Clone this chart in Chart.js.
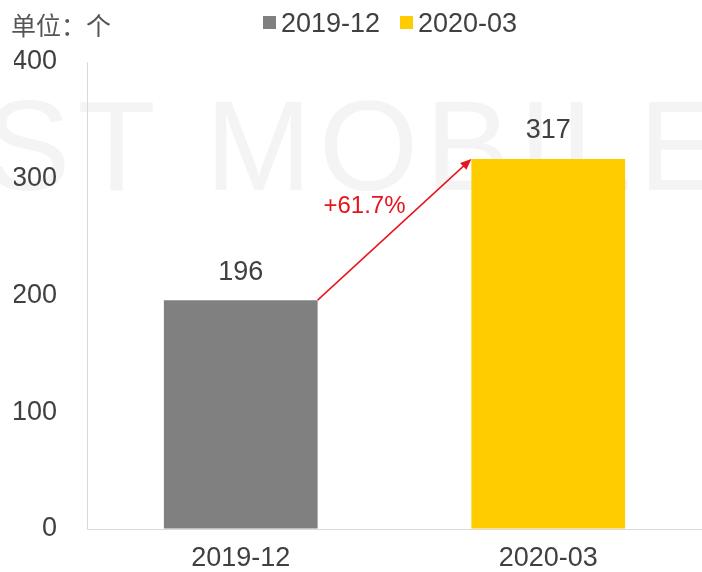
<!DOCTYPE html>
<html>
<head>
<meta charset="utf-8">
<script src="https://cdn.jsdelivr.net/npm/chart.js@4"></script>
<style>
  html, body { margin: 0; padding: 0; background: #fff; }
  #wrap { width: 702px; height: 572px; }
</style>
</head>
<body>
<div id="wrap"><canvas id="growthChart" width="702" height="572"></canvas></div>
<script>
// Data
const categories = ['2019-12', '2020-03'];
const values = [196, 317];
const barColors = ['#808080', '#ffcc00'];
const yTicks = [0, 100, 200, 300, 400];
const growthLabel = '+61.7%';
const unitLabel = '单位：个';

const FONT = '"Liberation Sans", Arial, sans-serif';
const CJK = '"Noto Sans CJK SC", "Liberation Sans", sans-serif';
const TEXT = '#404040';

// Faint watermark behind everything
const watermark = {
    id: 'watermark',
    beforeDraw(chart) {
        const c = chart.ctx;
        c.save();
        c.font = '128px ' + FONT;
        c.letterSpacing = '7px';
        c.fillStyle = '#f4f4f4';
        c.textAlign = 'left';
        c.textBaseline = 'alphabetic';
        c.fillText('ST MOBILE', -15, 190);
        c.restore();
    }
};

// Unit note + legend drawn by hand so they sit where the reference has them
const header = {
    id: 'header',
    afterDraw(chart) {
        const c = chart.ctx;
        c.save();
        c.textBaseline = 'middle';
        c.fillStyle = '#555';
        c.font = '25px ' + CJK;
        c.fillText(unitLabel, 11, 25);

        c.font = '27px ' + FONT;
        let x = 263;
        categories.forEach((cat, i) => {
            c.fillStyle = barColors[i];
            c.fillRect(x, 16, 13, 13);
            c.fillStyle = TEXT;
            c.fillText(cat, x + 18, 25);
            x += 137;
        });
        c.restore();
    }
};

// Value labels and the growth arrow
const annotations = {
    id: 'annotations',
    afterDatasetsDraw(chart) {
        const c = chart.ctx;
        const bars = chart.getDatasetMeta(0).data;
        c.save();
        c.font = '27px ' + FONT;
        c.fillStyle = TEXT;
        c.textAlign = 'center';
        c.textBaseline = 'middle';
        bars.forEach((b, i) => c.fillText(String(values[i]), b.x, b.y - 28));

        const x0 = bars[0].x + bars[0].width / 2, y0 = bars[0].y;
        const x1 = bars[1].x - bars[1].width / 2, y1 = bars[1].y;
        const ang = Math.atan2(y1 - y0, x1 - x0);
        const head = 12;
        c.strokeStyle = '#e8141c';
        c.fillStyle = '#e8141c';
        c.lineWidth = 1.5;
        c.beginPath();
        c.moveTo(x0, y0);
        c.lineTo(x1 - Math.cos(ang) * head * 0.8, y1 - Math.sin(ang) * head * 0.8);
        c.stroke();
        c.beginPath();
        c.moveTo(x1, y1);
        c.lineTo(x1 - head * Math.cos(ang - 0.4), y1 - head * Math.sin(ang - 0.4));
        c.lineTo(x1 - head * Math.cos(ang + 0.4), y1 - head * Math.sin(ang + 0.4));
        c.closePath();
        c.fill();

        c.font = '24px ' + FONT;
        c.fillText(growthLabel, (x0 + x1) / 2 - 30, (y0 + y1) / 2 - 23);
        c.restore();
    }
};

const ctx = document.getElementById('growthChart').getContext('2d');
new Chart(ctx, {
    type: 'bar',
    data: {
        labels: categories,
        datasets: [{
            data: values,
            backgroundColor: barColors,
            barPercentage: 1,
            categoryPercentage: 0.5
        }]
    },
    options: {
        responsive: false,
        animation: false,
        layout: { padding: { top: 62, left: 14, right: -3, bottom: 0 } },
        plugins: {
            legend: { display: false },
            tooltip: { enabled: false }
        },
        scales: {
            x: {
                afterFit: scale => { scale.height = 43; },
                grid: { drawOnChartArea: false, drawTicks: false },
                border: { color: '#d9d9d9', width: 1 },
                ticks: { color: TEXT, font: { family: FONT, size: 27 }, padding: 13 }
            },
            y: {
                min: 0,
                max: 400,
                afterBuildTicks: scale => { scale.ticks = yTicks.map(v => ({ value: v })); },
                afterFit: scale => {
                    scale.width = 73;
                    scale.paddingTop = 0;
                    scale.paddingBottom = 0;
                },
                grid: { drawOnChartArea: false, drawTicks: false },
                border: { color: '#d9d9d9', width: 1 },
                ticks: { color: TEXT, font: { family: FONT, size: 27 }, padding: 30 }
            }
        }
    },
    plugins: [watermark, header, annotations]
});
</script>
</body>
</html>
